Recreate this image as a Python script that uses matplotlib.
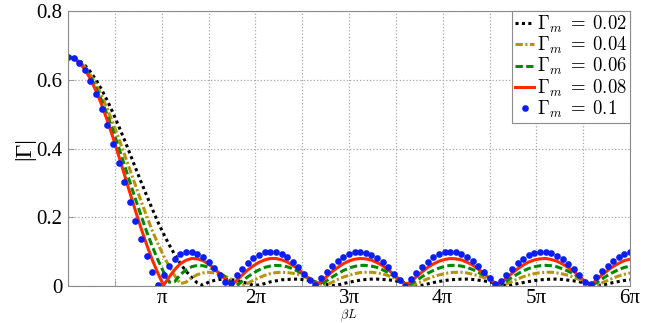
import matplotlib
matplotlib.use('Agg')
import matplotlib.pyplot as plt
import numpy as np

plt.rcParams['mathtext.fontset'] = 'cm'
plt.rcParams['font.family'] = ['Liberation Serif', 'DejaVu Serif']

# beta*L sample points, 0 .. 6 pi
beta_l = np.linspace(0, 6 * np.pi, 101)

# |Gamma|, one list per Gamma_m
gamma_002 = [0.667, 0.664, 0.656, 0.642, 0.623, 0.599, 0.571, 0.539, 0.504, 0.466, 0.427,
             0.386, 0.344, 0.303, 0.263, 0.224, 0.186, 0.152, 0.120, 0.091, 0.065,
             0.043, 0.025, 0.009, 0.002, 0.011, 0.016, 0.019, 0.020, 0.019, 0.016,
             0.012, 0.007, 0.002, 0.003, 0.007, 0.012, 0.015, 0.018, 0.019, 0.020,
             0.020, 0.018, 0.016, 0.013, 0.009, 0.005, 0.001, 0.003, 0.007, 0.011,
             0.014, 0.017, 0.019, 0.020, 0.020, 0.019, 0.018, 0.016, 0.013, 0.009,
             0.006, 0.002, 0.002, 0.006, 0.010, 0.013, 0.016, 0.018, 0.019, 0.020,
             0.020, 0.019, 0.017, 0.015, 0.012, 0.009, 0.005, 0.001, 0.003, 0.007,
             0.010, 0.013, 0.016, 0.018, 0.019, 0.020, 0.020, 0.019, 0.017, 0.015,
             0.012, 0.009, 0.005, 0.001, 0.003, 0.006, 0.010, 0.013, 0.016, 0.018]
gamma_004 = [0.667, 0.663, 0.653, 0.637, 0.614, 0.586, 0.553, 0.515, 0.474, 0.431, 0.385,
             0.339, 0.293, 0.247, 0.203, 0.161, 0.123, 0.088, 0.057, 0.030, 0.007,
             0.011, 0.024, 0.033, 0.038, 0.040, 0.038, 0.034, 0.028, 0.020, 0.011,
             0.001, 0.008, 0.017, 0.024, 0.031, 0.036, 0.039, 0.040, 0.039, 0.037,
             0.033, 0.027, 0.021, 0.013, 0.005, 0.003, 0.011, 0.019, 0.026, 0.031,
             0.036, 0.039, 0.040, 0.040, 0.038, 0.035, 0.030, 0.024, 0.017, 0.010,
             0.002, 0.006, 0.014, 0.021, 0.027, 0.032, 0.036, 0.039, 0.040, 0.040,
             0.038, 0.034, 0.030, 0.024, 0.017, 0.010, 0.002, 0.006, 0.013, 0.020,
             0.027, 0.032, 0.036, 0.039, 0.040, 0.040, 0.038, 0.035, 0.031, 0.025,
             0.019, 0.012, 0.006, 0.001, 0.009, 0.016, 0.023, 0.029, 0.034, 0.038]
gamma_006 = [0.667, 0.663, 0.652, 0.633, 0.608, 0.576, 0.539, 0.497, 0.452, 0.404, 0.354,
             0.303, 0.253, 0.205, 0.158, 0.115, 0.076, 0.041, 0.011, 0.013, 0.033,
             0.047, 0.056, 0.060, 0.059, 0.055, 0.048, 0.038, 0.026, 0.012, 0.001,
             0.014, 0.027, 0.038, 0.047, 0.054, 0.058, 0.060, 0.059, 0.056, 0.050,
             0.042, 0.032, 0.021, 0.010, 0.003, 0.015, 0.026, 0.036, 0.045, 0.052,
             0.057, 0.060, 0.060, 0.058, 0.054, 0.047, 0.039, 0.029, 0.019, 0.007,
             0.005, 0.016, 0.027, 0.037, 0.045, 0.052, 0.057, 0.060, 0.060, 0.058,
             0.054, 0.048, 0.040, 0.031, 0.020, 0.009, 0.003, 0.014, 0.025, 0.035,
             0.044, 0.051, 0.056, 0.059, 0.060, 0.059, 0.056, 0.050, 0.043, 0.035,
             0.025, 0.014, 0.002, 0.009, 0.020, 0.031, 0.040, 0.048, 0.054, 0.058]
gamma_008 = [0.667, 0.663, 0.650, 0.630, 0.602, 0.567, 0.527, 0.481, 0.432, 0.380, 0.326,
             0.272, 0.219, 0.168, 0.120, 0.076, 0.037, 0.002, 0.026, 0.048, 0.065,
             0.075, 0.080, 0.079, 0.074, 0.064, 0.051, 0.036, 0.019, 0.002, 0.016,
             0.032, 0.047, 0.059, 0.069, 0.076, 0.080, 0.080, 0.076, 0.070, 0.060,
             0.049, 0.035, 0.020, 0.004, 0.012, 0.027, 0.042, 0.054, 0.065, 0.073,
             0.078, 0.080, 0.079, 0.075, 0.068, 0.059, 0.047, 0.033, 0.019, 0.003,
             0.012, 0.027, 0.041, 0.054, 0.064, 0.072, 0.077, 0.080, 0.079, 0.076,
             0.069, 0.061, 0.049, 0.037, 0.022, 0.007, 0.008, 0.023, 0.037, 0.050,
             0.061, 0.070, 0.076, 0.079, 0.080, 0.077, 0.072, 0.064, 0.054, 0.042,
             0.028, 0.013, 0.002, 0.017, 0.032, 0.045, 0.057, 0.066, 0.074, 0.078]
gamma_010 = [0.667, 0.662, 0.649, 0.627, 0.597, 0.559, 0.516, 0.467, 0.414, 0.359, 0.302,
             0.245, 0.189, 0.136, 0.086, 0.041, 0.002, 0.032, 0.059, 0.079, 0.092,
             0.099, 0.100, 0.094, 0.084, 0.070, 0.052, 0.032, 0.011, 0.010, 0.031,
             0.050, 0.067, 0.081, 0.091, 0.098, 0.100, 0.098, 0.092, 0.083, 0.070,
             0.054, 0.036, 0.017, 0.003, 0.022, 0.041, 0.058, 0.073, 0.085, 0.094,
             0.099, 0.100, 0.097, 0.091, 0.082, 0.069, 0.054, 0.036, 0.018, 0.001,
             0.021, 0.039, 0.056, 0.071, 0.083, 0.092, 0.098, 0.100, 0.098, 0.093,
             0.084, 0.073, 0.058, 0.042, 0.024, 0.005, 0.014, 0.033, 0.050, 0.066,
             0.079, 0.089, 0.096, 0.100, 0.099, 0.096, 0.088, 0.078, 0.065, 0.049,
             0.032, 0.013, 0.006, 0.025, 0.043, 0.059, 0.073, 0.085, 0.093, 0.098]

labels = [r'$\Gamma_m\;=\;0.02\;\;\;$', r'$\Gamma_m\;=\;0.04\;\;\;$',
          r'$\Gamma_m\;=\;0.06\;\;\;$', r'$\Gamma_m\;=\;0.08\;\;\;$',
          r'$\Gamma_m\;=\;0.1\;\;\;$']

fig = plt.figure(figsize=(6.55, 3.23), dpi=100)
ax = fig.add_axes([68 / 655, 1 - 286 / 323, 562 / 655, 275 / 323])

lw = 2.2
ax.plot(beta_l, gamma_002, color='black', lw=lw, dashes=(1, 1.1), label=labels[0])
ax.plot(beta_l, gamma_004, color='#b8940c', lw=lw, dashes=(2.4, 0.8, 0.7, 0.8), label=labels[1])
ax.plot(beta_l, gamma_006, color='#008a00', lw=lw, dashes=(2.4, 1.1), label=labels[2])
ax.plot(beta_l, gamma_008, color='#ff2a00', lw=lw, label=labels[3])
ax.plot(beta_l, gamma_010, linestyle='none', marker='o', ms=4.8, mec='none',
        color='#0a1ef5', label=labels[4])

ax.set_xlim(0, 6 * np.pi)
ax.set_ylim(0, 0.8)

# grid every pi/2, labels only on whole multiples of pi
xt = np.arange(0, 13) * np.pi / 2
xl = ['' if i % 2 else ('' if i == 0 else ('π' if i == 2 else '%dπ' % (i // 2)))
      for i in range(13)]
ax.set_xticks(xt)
ax.set_xticklabels(xl)
ax.set_yticks([0, 0.2, 0.4, 0.6, 0.8])
ax.set_yticklabels(['0', '0.2', '0.4', '0.6', '0.8'])
ax.grid(True, linestyle=':', color='#a8a8a8', lw=0.9)
ax.tick_params(direction='in', length=4, width=0.6, color='#8c8c8c',
               labelsize=15, pad=4)
ax.tick_params(axis='x', pad=2)
for sp in ax.spines.values():
    sp.set_color('#8c8c8c')
    sp.set_linewidth(0.8)

ax.set_ylabel('|Γ|', fontsize=17, labelpad=0)
ax.yaxis.set_label_coords(-0.058, 0.5)
# the axis title sits right at the bottom edge, as small as it must be to fit
ax.set_xlabel(r'$\beta L$', fontsize=9)
ax.xaxis.set_label_coords(0.5, -0.134)
ax.xaxis.label.set_va('bottom')

leg = ax.legend(loc='upper right', borderaxespad=0, fontsize=13.5, handlelength=1.0,
                handletextpad=0.15, labelspacing=0.0, borderpad=0.15, numpoints=1,
                fancybox=False, framealpha=1, edgecolor='#8c8c8c')
leg.get_frame().set_linewidth(0.8)

fig.savefig('out.png', dpi=100)
